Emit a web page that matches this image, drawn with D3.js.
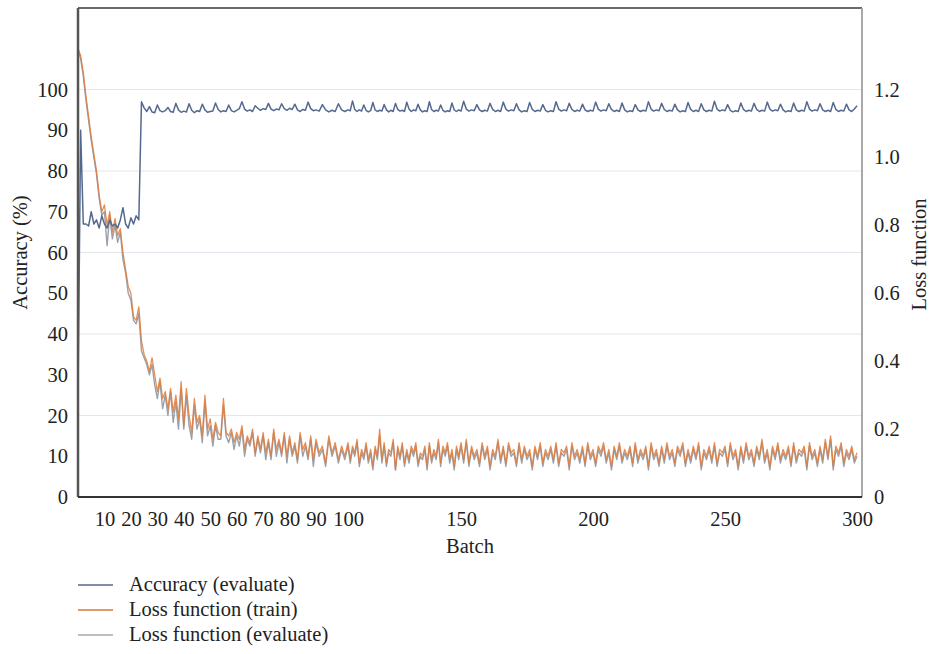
<!DOCTYPE html>
<html><head><meta charset="utf-8">
<script src="https://cdn.jsdelivr.net/npm/d3@7/dist/d3.min.js"></script>
<style>
body{margin:0;background:#fff;}
</style></head>
<body>
<svg id="chart" width="929" height="654"></svg>
<script>
// ---- data (index = batch number, 0..300) ----
const xTicks = [10,20,30,40,50,60,70,80,90,100,150,200,250,300];
const yLeftTicks = [0,10,20,30,40,50,60,70,80,90,100];
const yRightTicks = [0,0.2,0.4,0.6,0.8,1.0,1.2];
const gridTicks = [20,40,60,80,100];
const seriesNames = ["Accuracy (evaluate)","Loss function (train)","Loss function (evaluate)"];

const accuracy = [
25,90,67,67,66.5,70,67,68,66,69,
67,66,68,66.5,67,66,68,71,67,66,
68.5,67,69,68,97,95.5,94.6,95.8,94.5,94.3,
96.2,94.8,94.5,94.8,95.6,94.6,94.4,96.6,95,94.4,
94.7,94.5,96.5,94.9,94.3,94.8,94.6,96.4,95,94.4,
94.6,94.7,96.7,95.1,94.5,94.8,94.6,96.2,94.8,94.5,
94.9,95.3,97,95.2,94.7,95,94.6,96,95.4,94.9,
95.3,95.1,96.6,95.2,94.8,95.2,95,96.5,95.3,94.9,
95.4,95.1,96.4,95,94.6,95.1,94.9,96.9,95.3,94.8,
95,94.7,96.3,95,94.5,94.9,94.6,96.5,95,94.6,
95,94.8,97.2,95.1,94.6,95,94.7,96.2,94.9,94.5,
94.8,96.8,95,94.6,94.9,94.7,96.3,95,94.5,94.9,
94.6,96.6,95.1,94.7,94.9,94.6,96.9,95.2,94.6,95,
94.8,96.4,95,94.5,94.8,94.6,97,95.1,94.6,94.9,
94.7,96.2,94.9,94.5,94.8,94.6,96.7,95,94.6,95,
94.7,97.1,95.2,94.7,95,94.8,96.3,95,94.6,94.9,
94.7,96.6,95.1,94.6,94.9,94.6,96.9,95.2,94.7,95,
94.8,96.5,95,94.5,94.8,94.6,96.8,95.1,94.6,94.9,
94.7,96.3,94.9,94.5,94.8,94.6,97,95.2,94.7,95,
94.8,96.6,95.1,94.6,94.9,94.7,96.4,95,94.6,94.9,
94.7,96.9,95.2,94.7,95,94.8,96.5,95.1,94.6,94.9,
94.6,96.7,95,94.5,94.8,94.6,96.3,95,94.6,94.9,
94.7,97,95.2,94.7,95,94.8,96.6,95.1,94.6,94.9,
94.7,96.4,95,94.5,94.8,94.6,96.8,95.1,94.6,94.9,
94.6,96.5,95,94.6,94.9,94.7,97.1,95.2,94.7,95,
94.8,96.3,94.9,94.5,94.8,94.6,96.7,95.1,94.6,94.9,
94.7,96.6,95.1,94.6,94.9,94.7,96.9,95.2,94.7,95,
94.8,96.4,95,94.5,94.8,94.6,96.7,95,94.6,94.9,
94.7,97,95.2,94.7,95,94.8,96.5,95,94.6,94.9,
94.6,96.8,95.1,94.6,94.9,94.7,96.4,95,94.6,95.2,
96];

const lossTrain = [
1.32,1.30,1.25,1.18,1.12,1.06,1.01,0.96,0.89,0.84,
0.86,0.80,0.84,0.78,0.82,0.77,0.79,0.72,0.67,0.62,
0.60,0.53,0.52,0.56,0.46,0.42,0.40,0.37,0.41,0.36,
0.31,0.35,0.29,0.31,0.26,0.32,0.25,0.30,0.23,0.34,
0.21,0.32,0.24,0.19,0.29,0.22,0.24,0.18,0.30,0.20,
0.23,0.17,0.22,0.19,0.18,0.29,0.19,0.18,0.20,0.16,
0.19,0.17,0.21,0.14,0.18,0.16,0.20,0.13,0.18,0.14,
0.19,0.13,0.17,0.12,0.20,0.14,0.17,0.13,0.19,0.12,
0.18,0.13,0.16,0.11,0.19,0.14,0.16,0.12,0.18,0.11,
0.17,0.13,0.15,0.10,0.18,0.13,0.16,0.11,0.15,0.12,
0.16,0.11,0.15,0.13,0.17,0.10,0.14,0.12,0.16,0.11,
0.14,0.09,0.15,0.12,0.20,0.11,0.16,0.10,0.14,0.13,
0.17,0.08,0.15,0.12,0.16,0.10,0.14,0.11,0.15,0.13,
0.16,0.10,0.13,0.12,0.15,0.09,0.16,0.11,0.14,0.12,
0.17,0.10,0.15,0.13,0.16,0.11,0.14,0.09,0.15,0.12,
0.16,0.11,0.17,0.10,0.15,0.12,0.14,0.10,0.16,0.12,
0.15,0.09,0.14,0.12,0.17,0.11,0.15,0.10,0.16,0.13,
0.14,0.10,0.16,0.11,0.15,0.12,0.14,0.09,0.15,0.12,
0.16,0.10,0.14,0.12,0.15,0.11,0.16,0.10,0.14,0.13,
0.15,0.09,0.16,0.12,0.14,0.11,0.15,0.10,0.16,0.12,
0.14,0.10,0.15,0.13,0.16,0.11,0.14,0.09,0.15,0.12,
0.16,0.11,0.14,0.12,0.15,0.10,0.16,0.11,0.14,0.12,
0.15,0.09,0.16,0.12,0.14,0.10,0.15,0.11,0.16,0.12,
0.14,0.10,0.15,0.13,0.16,0.10,0.14,0.11,0.15,0.12,
0.16,0.09,0.14,0.12,0.15,0.11,0.16,0.10,0.14,0.13,
0.15,0.10,0.16,0.12,0.14,0.09,0.15,0.11,0.16,0.12,
0.14,0.10,0.15,0.12,0.17,0.11,0.14,0.09,0.15,0.12,
0.16,0.11,0.14,0.12,0.15,0.10,0.16,0.11,0.14,0.13,
0.15,0.09,0.16,0.12,0.14,0.10,0.15,0.11,0.17,0.12,
0.18,0.09,0.15,0.13,0.16,0.10,0.14,0.12,0.15,0.11,
0.13];

const lossEval = [
1.32,1.29,1.24,1.17,1.11,1.05,1.00,0.95,0.88,0.83,
0.84,0.74,0.83,0.76,0.80,0.75,0.78,0.70,0.66,0.60,
0.58,0.52,0.51,0.54,0.43,0.41,0.39,0.36,0.39,0.33,
0.29,0.34,0.26,0.30,0.24,0.31,0.22,0.28,0.20,0.32,
0.20,0.30,0.21,0.17,0.27,0.20,0.23,0.16,0.28,0.18,
0.21,0.15,0.21,0.17,0.17,0.27,0.18,0.16,0.19,0.14,
0.18,0.15,0.20,0.12,0.17,0.15,0.19,0.12,0.17,0.13,
0.18,0.11,0.16,0.11,0.19,0.12,0.16,0.12,0.18,0.10,
0.17,0.12,0.15,0.10,0.18,0.12,0.15,0.11,0.17,0.09,
0.16,0.12,0.14,0.09,0.17,0.12,0.15,0.10,0.14,0.11,
0.15,0.10,0.14,0.12,0.16,0.09,0.13,0.11,0.15,0.10,
0.13,0.08,0.14,0.11,0.18,0.10,0.15,0.09,0.13,0.12,
0.16,0.08,0.14,0.11,0.15,0.09,0.13,0.10,0.14,0.12,
0.15,0.09,0.12,0.11,0.14,0.08,0.15,0.10,0.13,0.11,
0.16,0.09,0.14,0.12,0.15,0.10,0.13,0.08,0.14,0.11,
0.15,0.10,0.16,0.09,0.14,0.11,0.13,0.09,0.15,0.11,
0.14,0.08,0.13,0.11,0.16,0.10,0.14,0.09,0.15,0.12,
0.13,0.09,0.15,0.10,0.14,0.11,0.13,0.08,0.14,0.11,
0.15,0.09,0.13,0.11,0.14,0.10,0.15,0.09,0.13,0.12,
0.14,0.08,0.15,0.11,0.13,0.10,0.14,0.09,0.15,0.11,
0.13,0.09,0.14,0.12,0.15,0.10,0.13,0.08,0.14,0.11,
0.15,0.10,0.13,0.11,0.14,0.09,0.15,0.10,0.13,0.11,
0.14,0.08,0.15,0.11,0.13,0.09,0.14,0.10,0.15,0.11,
0.13,0.09,0.14,0.12,0.15,0.09,0.13,0.10,0.14,0.11,
0.15,0.08,0.13,0.11,0.14,0.10,0.15,0.09,0.13,0.12,
0.14,0.09,0.15,0.11,0.13,0.08,0.14,0.10,0.15,0.11,
0.13,0.09,0.14,0.11,0.16,0.10,0.13,0.08,0.14,0.11,
0.15,0.10,0.13,0.11,0.14,0.09,0.15,0.10,0.13,0.12,
0.14,0.08,0.15,0.11,0.13,0.09,0.14,0.10,0.16,0.11,
0.17,0.08,0.14,0.12,0.15,0.09,0.13,0.11,0.14,0.10,
0.12];

// ---- layout ----
const svg = d3.select("#chart");
const L = 78, R = 862, T = 8, B = 497;
const FONT = "Liberation Serif";
const FS = 20.5;
const colors = ["#55698f", "#e07a3a", "#9aa1ab"];

const x = d3.scaleLinear().domain([0, 90, 100, 150, 300]).range([L, 316, 348, 461, 857]);
const yL = d3.scaleLinear().domain([0, 120]).range([B, T]);
const yR = d3.scaleLinear().domain([0, 1.44]).range([B, T]);

// gridlines
svg.append("g").selectAll("line").data(gridTicks).join("line")
  .attr("x1", L).attr("x2", R)
  .attr("y1", d => yL(d)).attr("y2", d => yL(d))
  .attr("stroke", "#e4e6ee").attr("stroke-width", 1.2);

// lines
const lineL = d3.line().x((d, i) => x(i)).y(d => yL(d));
const lineR = d3.line().x((d, i) => x(i)).y(d => yR(d));

svg.append("path").datum(lossEval).attr("d", lineR)
  .attr("fill", "none").attr("stroke", colors[2]).attr("stroke-width", 1.4).attr("stroke-linejoin", "round");
svg.append("path").datum(lossTrain).attr("d", lineR)
  .attr("fill", "none").attr("stroke", colors[1]).attr("stroke-width", 1.3).attr("stroke-opacity", 0.85).attr("stroke-linejoin", "round");
svg.append("path").datum(accuracy).attr("d", lineL)
  .attr("fill", "none").attr("stroke", colors[0]).attr("stroke-width", 1.5).attr("stroke-linejoin", "round");

// frame
svg.append("line").attr("x1", L).attr("x2", R).attr("y1", T).attr("y2", T).attr("stroke", "#6a6a6a").attr("stroke-width", 2);
svg.append("line").attr("x1", R).attr("x2", R).attr("y1", T).attr("y2", B).attr("stroke", "#a9a9a9").attr("stroke-width", 2);

// axes
const axL = d3.axisLeft(yL).tickValues(yLeftTicks).tickSize(0).tickPadding(10).tickFormat(d3.format("d"));
const gL = svg.append("g").attr("transform", `translate(${L},0)`).call(axL);
gL.select(".domain").attr("stroke", "#555").attr("stroke-width", 2.5).attr("d", `M0,${T}V${B}`);

const axR = d3.axisRight(yR).tickValues(yRightTicks).tickSize(0).tickPadding(12)
  .tickFormat(d => d === 0 ? "0" : d3.format(".1f")(d));
const gR = svg.append("g").attr("transform", `translate(${R},0)`).call(axR);
gR.select(".domain").remove();

const axB = d3.axisBottom(x).tickValues(xTicks).tickSize(0).tickPadding(14).tickFormat(d3.format("d"));
const gB = svg.append("g").attr("transform", `translate(0,${B})`).call(axB);
gB.select(".domain").attr("stroke", "#333").attr("stroke-width", 2).attr("d", `M${L},0H${R}`);

[gL, gR, gB].forEach(g => g.attr("font-family", FONT).attr("font-size", FS));
svg.selectAll(".tick text").attr("font-family", FONT).attr("font-size", FS).attr("fill", "#222");

// axis titles
svg.append("text").attr("transform", `translate(27,${(T + B) / 2}) rotate(-90)`)
  .attr("text-anchor", "middle").attr("font-family", FONT).attr("font-size", FS).attr("fill", "#222").text("Accuracy (%)");
svg.append("text").attr("transform", `translate(926,${(T + B) / 2 + 2}) rotate(-90)`)
  .attr("text-anchor", "middle").attr("font-family", FONT).attr("font-size", FS).attr("fill", "#222").text("Loss function");
svg.append("text").attr("x", 470).attr("y", 553)
  .attr("text-anchor", "middle").attr("font-family", FONT).attr("font-size", FS).attr("fill", "#222").text("Batch");

// legend
const legColors = ["#55698f", "#d9783c", "#a8a8a8"];
const lg = svg.append("g").selectAll("g").data(seriesNames).join("g")
  .attr("transform", (d, i) => `translate(78,${585 + i * 25})`);
lg.append("line").attr("x1", 0).attr("x2", 35).attr("y1", 0).attr("y2", 0)
  .attr("stroke", (d, i) => legColors[i]).attr("stroke-width", 1.3);
lg.append("text").attr("x", 51).attr("y", 6).attr("font-family", FONT).attr("font-size", FS).attr("fill", "#222").text(d => d);
</script>
</body></html>
